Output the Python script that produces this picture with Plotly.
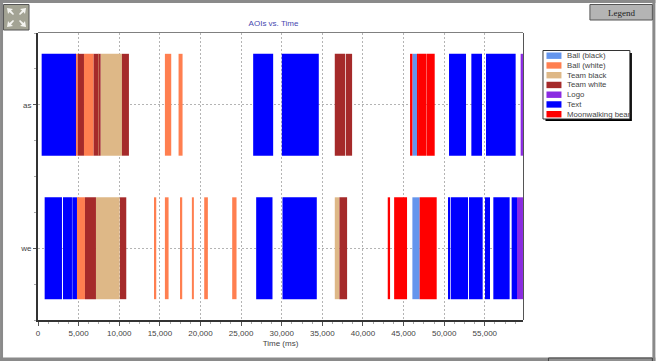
import plotly.graph_objects as go

# Data: (start ms, end ms) fixation segments
ball_black_as = [(46084, 46658)]
ball_black_we = [(46084, 46986)]
ball_white_as = [(4674, 4879), (5658, 6847), (15621, 16400), (17302, 17794)]
ball_white_we = [(4797, 5781), (14391, 14555), (15621, 16072), (17507, 17753),
                 (18942, 19188), (20459, 20910), (23903, 24436)]
team_black_as = [(7421, 7462), (7708, 10332)]
team_black_we = [(7134, 10045), (36531, 37105)]
team_white_as = [(4879, 5658), (6847, 7421), (7462, 7708), (10332, 11193),
                 (36531, 37802), (37884, 38663)]
team_white_we = [(5781, 7134), (10086, 10865), (37105, 38048)]
logo_as = [(59409, 59696)]
logo_we = [(58959, 59696)]
text_as = [(451, 4674), (26486, 28946), (30012, 34563), (50594, 52686),
           (53342, 54654), (55146, 58795)]
text_we = [(820, 2952), (3075, 4182), (4223, 4797), (26855, 28864), (30094, 34317),
           (50471, 50635), (50799, 52932), (53055, 54736), (55023, 55638),
           (56048, 58057), (58303, 58959)]
bear_as = [(45797, 46084), (46658, 46740), (46781, 47765), (47806, 48831)]
bear_we = [(43050, 43337), (43837, 45428), (46986, 49077)]

participants = ["we", "as"]
series_names = ["Ball (black)", "Ball (white)", "Team black", "Team white",
                "Logo", "Text", "Moonwalking bear"]
series_colors = ["#6495ED", "#FF7F50", "#DEB887", "#A52A2A", "#8A2BE2", "#0000FF", "#FF0000"]
series_we = [ball_black_we, ball_white_we, team_black_we, team_white_we, logo_we, text_we, bear_we]
series_as = [ball_black_as, ball_white_as, team_black_as, team_white_as, logo_as, text_as, bear_as]
x_ticks = list(range(0, 60000, 5000))

L, R, T, B = 38, 523.5, 33, 320
W, H = 656, 361


def px(x):
    return (x - L) / (R - L)


def py(y):
    return (B - y) / (B - T)


def rect(x0, y0, x1, y1, fill, line=None, lw=1):
    return dict(type="rect", xref="paper", yref="paper", x0=px(x0), x1=px(x1), y0=py(y0), y1=py(y1),
                fillcolor=fill, line=dict(color=line or fill, width=lw if line else 0), layer="above")


def poly(points, fill):
    d = "M" + " L".join(f"{px(a):.4f},{py(b):.4f}" for a, b in points) + " Z"
    return dict(type="path", xref="paper", yref="paper", path=d, fillcolor=fill,
                line=dict(width=0), layer="above")


fig = go.Figure()
for name, color, we, a in zip(series_names, series_colors, series_we, series_as):
    segs = [(0, s) for s in we] + [(1, s) for s in a]
    fig.add_trace(go.Bar(
        name=name, orientation="h", width=0.71, showlegend=False,
        y=[p for p, _ in segs],
        base=[s[0] for _, s in segs],
        x=[s[1] - s[0] for _, s in segs],
        marker=dict(color=color, line=dict(width=0)),
    ))

shapes = [
    # plot frame (top and right)
    rect(L, 32, R, 33, "#808080"),
    rect(R, 33, R + 1, B, "#555555"),
    # window border
    rect(0, 0, W, 3, "#8a8a8a"),
    rect(0, 0, 3, H, "#8a8a8a"),
    rect(653, 0, W, H, "#8a8a8a"),
    rect(0, 357.5, W, H, "#8a8a8a"),
    rect(549, 358, 653, H + 2, "#909090", "#444444", 1),
    # legend button
    rect(590.5, 4.5, 653, 20, "#b4b4b4", "#555555", 1),
    # expand icon
    rect(3.5, 4.5, 29, 30, "#a3a394", "#555555", 1),
    poly([(7, 8), (13, 9), (11, 10.5), (14, 14), (13, 15), (9.5, 12), (8, 14)], "#f4f4f0"),
    poly([(26, 8), (20, 9), (22, 10.5), (19, 14), (20, 15), (23.5, 12), (25, 14)], "#f4f4f0"),
    poly([(7, 27), (13, 26), (11, 24.5), (14, 21), (13, 20), (9.5, 23), (8, 21)], "#f4f4f0"),
    poly([(26, 27), (20, 26), (22, 24.5), (19, 21), (20, 20), (23.5, 23), (25, 21)], "#f4f4f0"),
    # legend box with shadow
    rect(546, 53, 632.5, 121, "#000000"),
    rect(543.5, 50.5, 630.5, 119, "#ffffff", "#333333", 1),
]
annotations = [
    dict(text="Legend", x=px(622), y=py(13), xref="paper", yref="paper", showarrow=False,
         xanchor="center", yanchor="middle",
         font=dict(family="Liberation Serif", size=9, color="#222222")),
]
for i, (name, color) in enumerate(zip(series_names, series_colors)):
    yc = 55.7 + i * 9.75
    shapes.append(rect(547, yc - 3.2, 562, yc + 3.2, color))
    annotations.append(dict(text=name, x=px(565.5), y=py(yc), xref="paper", yref="paper",
                            xanchor="left", yanchor="middle", showarrow=False,
                            font=dict(family="Liberation Sans", size=7.8, color="#444444")))

fig.update_layout(
    width=W, height=H, margin=dict(l=L, r=W - R, t=T, b=H - B),
    autosize=False,
    paper_bgcolor="#ffffff", plot_bgcolor="#ffffff", barmode="overlay", showlegend=False,
    font=dict(family="Liberation Sans", size=8, color="#444444"),
    title=dict(text="AOIs vs. Time", x=273.5 / W, xanchor="center", y=1 - 23 / H, yanchor="middle",
               font=dict(family="Liberation Sans", size=8, color="#4848b0")),
    shapes=shapes, annotations=annotations,
    xaxis=dict(range=[0, 59700], tickvals=x_ticks, tickformat=",d", ticks="outside", ticklen=4,
               tickcolor="#555555", showgrid=True, griddash="2px,2px", gridcolor="#b4b4b4", gridwidth=1,
               showline=True, linecolor="#333333", linewidth=2, zeroline=False,
               minor=dict(dtick=1250, ticks="outside", ticklen=2, tickcolor="#aaaaaa", showgrid=False),
               title=dict(text="Time (ms)", standoff=4, font=dict(size=8, color="#444444")),
               tickfont=dict(size=8, color="#444444")),
    yaxis=dict(range=[-0.5, 1.5], tickmode="array", tickvals=[0, 1], ticktext=participants,
               ticks="outside", ticklen=3, tickcolor="#555555", showgrid=True, griddash="2px,2px",
               gridcolor="#b4b4b4", gridwidth=1, showline=True, linecolor="#333333", linewidth=2,
               zeroline=False,
               minor=dict(dtick=0.25, ticks="outside", ticklen=2, tickcolor="#aaaaaa", showgrid=False),
               tickfont=dict(size=8, color="#444444")),
)
fig.write_html("out.html", config=dict(displayModeBar=False),
               post_script="document.body.style.margin='0';document.body.style.overflow='hidden';")
